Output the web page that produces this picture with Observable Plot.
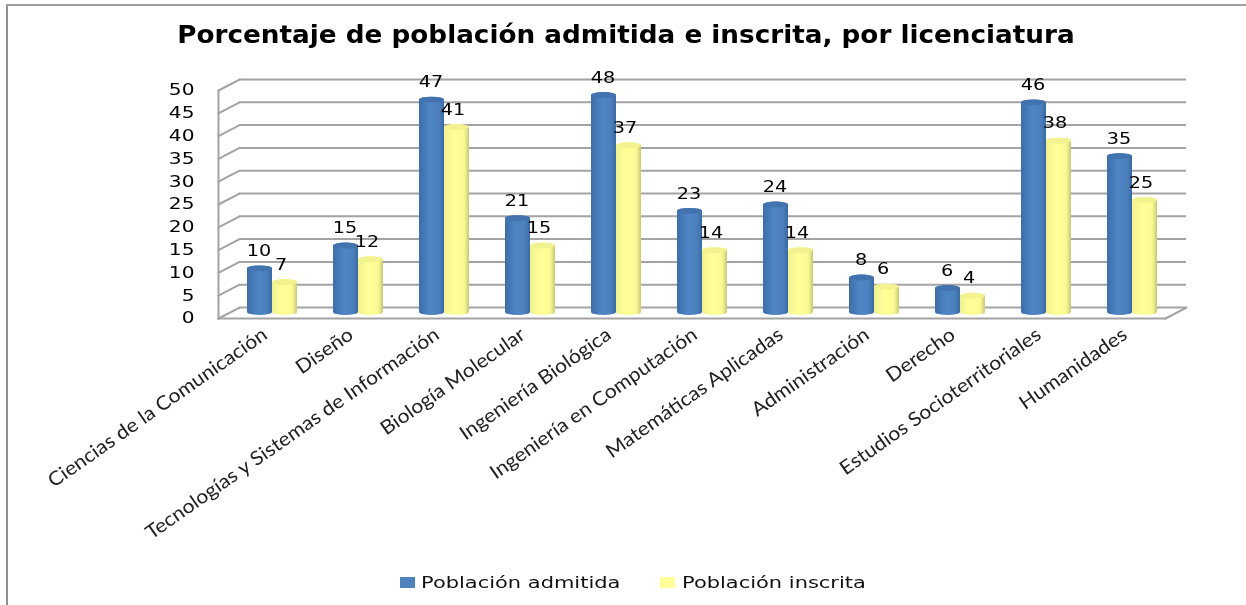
<!DOCTYPE html>
<html>
<head>
<meta charset="utf-8">
<script src="https://cdn.jsdelivr.net/npm/d3@7"></script>
<script src="https://cdn.jsdelivr.net/npm/@observablehq/plot@0.6"></script>
<style>
html,body{margin:0;padding:0;background:#fff;overflow:hidden}
#page{position:relative;width:1246px;height:605px;overflow:hidden;filter:blur(.3px)}
#fl{position:absolute;left:6px;top:4px;width:2px;bottom:0;background:#8f8f8f}
#ft{position:absolute;left:6px;top:4px;right:0;height:2px;background:#a0a0a0}
#title{position:absolute;left:0;top:0;width:1252px;text-align:center;font:bold 24px/71px "DejaVu Sans";color:#000;transform:scaleX(1.094);transform-origin:626px 0}
#chart{position:absolute;left:0;top:60px}
#legend{position:absolute;left:0;top:560px;height:45px;width:1246px;font:16px "DejaVu Sans";color:#111}
.sw{position:absolute;top:17px;width:15px;height:11px}
.lb{position:absolute;top:13px;line-height:20px;white-space:nowrap;transform:scaleX(1.31);transform-origin:0 0}
</style>
</head>
<body>
<div id="page">
<div id="fl"></div><div id="ft"></div>
<div id="title">Porcentaje de población admitida e inscrita, por licenciatura</div>
<div id="chart"></div>
<div id="legend"></div>
</div>
<script>
const categories = ["Ciencias de la Comunicación","Diseño","Tecnologías y Sistemas de Información","Biología Molecular","Ingeniería Biológica","Ingeniería en Computación","Matemáticas Aplicadas","Administración","Derecho","Estudios Socioterritoriales","Humanidades"];
const admitida = [10,15,47,21,48,22.6,24,8,5.7,46.4,34.6];
const inscrita = [7,12,41,15,37,14,14,6,4,38,25];
const yTicks = [0,5,10,15,20,25,30,35,40,45,50];
const seriesNames = ["Población admitida","Población inscrita"];

const admRows = categories.map((c,i)=>({c,v:admitida[i]}));
const insRows = categories.map((c,i)=>({c,v:inscrita[i]}));

const gridColor = "#a3a3a3";
const wallLine = {draw(ctx,l){ctx.moveTo(0,0);ctx.lineTo(0,-l);}};
const wall = {length:23.7,rotate:62.4,anchor:"start",shape:wallLine,stroke:gridColor,strokeWidth:2};
const bodyFont = "DejaVu Sans";
const cyl = {x:"c",y:"v",rx:12.5,ry:3,dy:-7,insetBottom:-4};
const cap = {x:"c",y1:d=>d.v-1.3,y2:"v",rx:12.5,ry:3,dy:-7};

const svg = Plot.plot({
  width:1246,height:500,
  marginLeft:218,marginRight:81,marginTop:30,marginBottom:242,
  style:{background:"transparent",overflow:"visible"},
  x:{type:"band",domain:categories,paddingInner:.71,paddingOuter:.355,label:null},
  y:{domain:[0,50],label:null},
  marks:[
    Plot.ruleY(yTicks,{dx:21,dy:-11,stroke:gridColor,strokeWidth:2}),
    Plot.vector(yTicks,{y:d=>d,frameAnchor:"left",...wall}),
    Plot.vector([0],{y:d=>d,frameAnchor:"right",...wall}),
    Plot.frame({anchor:"left",stroke:gridColor,strokeWidth:2}),
    Plot.frame({anchor:"bottom",stroke:gridColor,strokeWidth:2}),
    Plot.axisY({ticks:yTicks,tickSize:0,tickPadding:24,fontSize:15.5,fontFamily:bodyFont,fill:"#000",label:null,dy:0,className:"wide"}),
    Plot.axisX({tickSize:0,tickRotate:-35,tickPadding:12,fontSize:19.5,fontFamily:"Lato",fill:"#222",label:null,dx:3,dy:2,className:"catlab"}),
    Plot.barY(admRows,{...cyl,dx:-2,fill:"url(#gBlue)"}),
    Plot.barY(admRows,{...cap,dx:-2,fill:"#4373ae"}),
    Plot.barY(insRows,{...cyl,dx:23,fill:"url(#gYellow)"}),
    Plot.barY(insRows,{...cap,dx:23,fill:"#f2f290"}),
    Plot.text(admRows,{x:"c",y:"v",text:d=>d3.format(".0f")(d.v),dx:-3,dy:-22,fontSize:16,fontFamily:bodyFont,fill:"#000",className:"wideval"}),
    Plot.text(insRows,{x:"c",y:"v",text:d=>d3.format(".0f")(d.v),dx:19,dy:-22,fontSize:16,fontFamily:bodyFont,fill:"#000",className:"wideval"})
  ]
});

const NS="http://www.w3.org/2000/svg";
const defs=document.createElementNS(NS,"defs");
defs.innerHTML=`
<linearGradient id="gBlue" x1="0" x2="1" y1="0" y2="0">
<stop offset="0" stop-color="#3c6ea8"/><stop offset=".45" stop-color="#5086c6"/><stop offset=".8" stop-color="#4b7fbc"/><stop offset="1" stop-color="#3a6aa3"/>
</linearGradient>
<linearGradient id="gYellow" x1="0" x2="1" y1="0" y2="0">
<stop offset="0" stop-color="#f0f08f"/><stop offset=".4" stop-color="#ffff99"/><stop offset=".8" stop-color="#fbfb94"/><stop offset="1" stop-color="#c8c878"/>
</linearGradient>`;
svg.insertBefore(defs,svg.firstChild);
document.getElementById("chart").appendChild(svg);

// The reference's text is horizontally stretched: widen glyphs without changing their height.
function widen(sel,k){
  svg.querySelectorAll(sel).forEach(t=>{
    t.setAttribute("textLength",t.getComputedTextLength()*k);
    t.setAttribute("lengthAdjust","spacingAndGlyphs");
  });
}
widen(".wide text",1.3);
widen(".wideval text",1.2);
widen(".catlab text",1.08);

const legend=document.getElementById("legend");
[[400,421,"#4f81bd"],[660,682,"#ffff99"]].forEach((p,i)=>{
  const s=document.createElement("div");s.className="sw";s.style.left=p[0]+"px";s.style.background=p[2];legend.appendChild(s);
  const t=document.createElement("div");t.className="lb";t.style.left=p[1]+"px";t.textContent=seriesNames[i];legend.appendChild(t);
});
</script>
</body>
</html>
